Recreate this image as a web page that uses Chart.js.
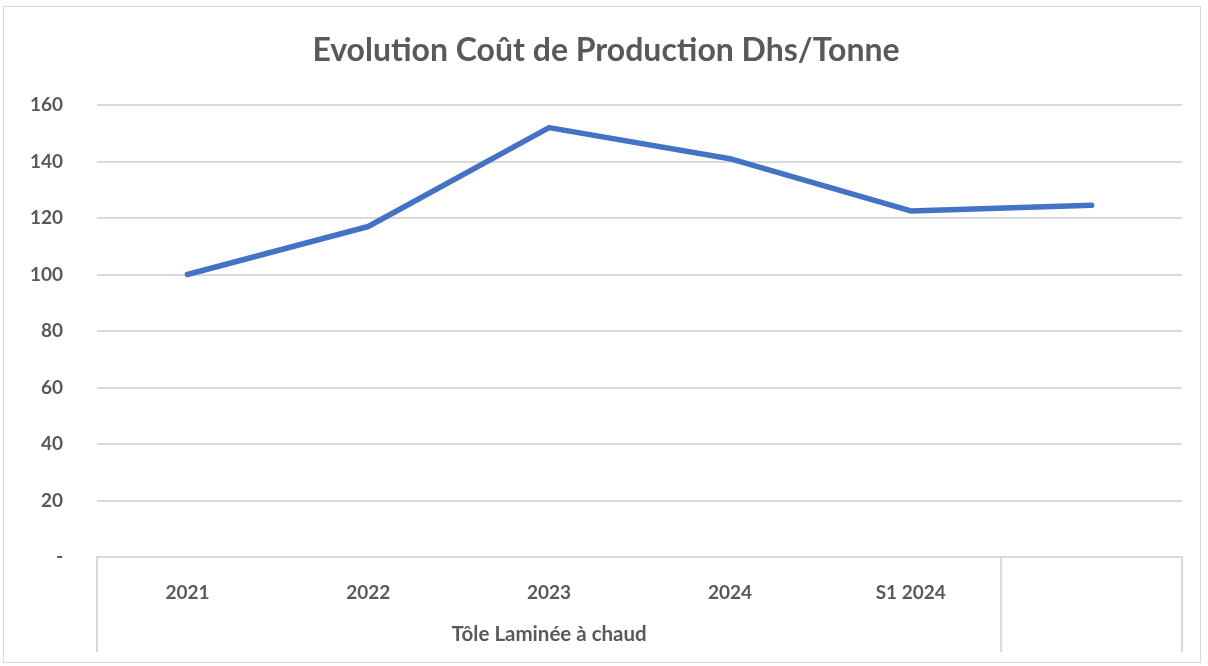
<!DOCTYPE html>
<html>
<head>
<meta charset="utf-8">
<script src="https://cdn.jsdelivr.net/npm/chart.js@4/dist/chart.umd.min.js"></script>
<style>
  html, body { margin: 0; padding: 0; background: #fff; }
  #wrap {
    position: absolute; left: 3px; top: 6px; width: 1198px; height: 657px;
    border: 1px solid #d9d9d9; box-sizing: border-box;
  }
  #chart { display: block; }
</style>
</head>
<body>
<div id="wrap"><canvas id="chart" width="1196" height="655"></canvas></div>
<script>
const chartTitle = "Evolution Coût de Production Dhs/Tonne";
const categories = ["2021", "2022", "2023", "2024", "S1 2024", ""];
const groupLabel = "Tôle Laminée à chaud";
const groupSpan = 5; // the group covers the first five categories
const costValues = [100, 117, 152, 141, 122.5, 124.5];
const yTicks = [0, 20, 40, 60, 80, 100, 120, 140, 160];

(() => {
  const textColor = "#595959";
  const gridColor = "#d9d9d9";
  const fontFamily = "Lato, 'Open Sans', sans-serif";

  // title + multi-level category axis (group label and separators)
  const excelBits = {
    id: "excelBits",
    afterDraw(chart) {
      const ctx = chart.ctx;
      const x = chart.scales.x;
      const y = chart.scales.y;
      ctx.save();

      ctx.fillStyle = textColor;
      ctx.textAlign = "center";
      ctx.textBaseline = "middle";
      ctx.font = `bold 32px ${fontFamily}`;
      ctx.fillText(chartTitle, chart.width / 2 + 4, 44);

      const half = (x.getPixelForValue(1) - x.getPixelForValue(0)) / 2;
      const split = x.getPixelForValue(groupSpan - 1) + half;
      const bottom = y.bottom + 95;
      ctx.strokeStyle = gridColor;
      ctx.lineWidth = 2;
      [x.left, split, x.right].forEach((px) => {
        ctx.beginPath();
        ctx.moveTo(px, y.bottom);
        ctx.lineTo(px, bottom);
        ctx.stroke();
      });

      ctx.font = `bold 20.5px ${fontFamily}`;
      ctx.fillText(groupLabel, (x.left + split) / 2, y.bottom + 77);
      ctx.restore();
    }
  };

  new Chart(document.getElementById("chart"), {
    type: "line",
    data: {
      labels: categories,
      datasets: [
        {
          label: "Coût",
          data: costValues,
          borderColor: "#4472c4",
          borderWidth: 5.5,
          borderCapStyle: "round",
          borderJoinStyle: "round",
          pointRadius: 0,
          tension: 0,
          fill: false
        }
      ]
    },
    options: {
      responsive: false,
      animation: false,
      layout: { padding: { top: 98, right: 18, left: 0, bottom: 0 } },
      plugins: {
        legend: { display: false },
        title: { display: false },
        tooltip: { enabled: false }
      },
      scales: {
        x: {
          offset: true,
          grid: { display: false, drawTicks: false },
          border: { display: true, color: gridColor, width: 2 },
          ticks: {
            color: textColor,
            padding: 24,
            maxRotation: 0,
            font: { family: fontFamily, size: 19, weight: "bold" }
          },
          afterFit(scale) { scale.height = 105; }
        },
        y: {
          min: 0,
          max: 160,
          afterBuildTicks(scale) { scale.ticks = yTicks.map((v) => ({ value: v })); },
          grid: { color: gridColor, lineWidth: 2, drawTicks: false },
          border: { display: false },
          ticks: {
            color: textColor,
            padding: 34,
            font: { family: fontFamily, size: 19, weight: "bold" },
            callback: (v) => (v === 0 ? "-" : String(v))
          },
          afterFit(scale) { scale.width = 93; }
        }
      }
    },
    plugins: [excelBits]
  });
})();
</script>
</body>
</html>
